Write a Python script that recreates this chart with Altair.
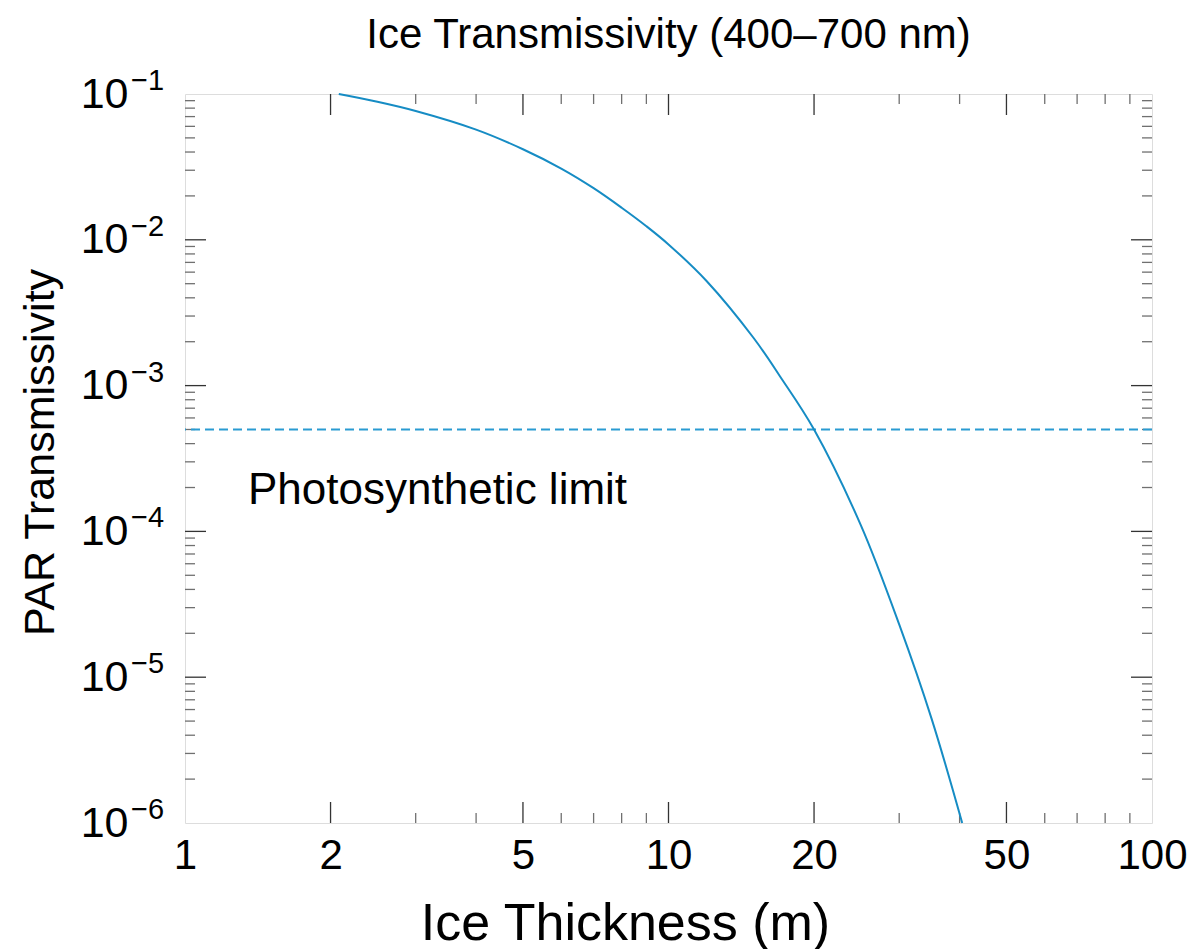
import altair as alt
import pandas as pd

# Ice thickness (m) and PAR transmissivity along the curve
thickness = [2.08, 2.5, 3, 4, 5, 6, 7, 8, 9, 10, 12, 15, 17, 20, 25, 30, 35, 40.5]
transmissivity = [0.1, 0.0885, 0.0765, 0.057, 0.0418, 0.0308, 0.0226, 0.0166, 0.0124,
                  0.0093, 0.0052, 0.00212, 0.00116, 5.0e-4, 1.1e-4, 2.3e-5, 5.2e-6, 1.0e-6]

# Photosynthetic limit threshold and its label anchor
limit_value = 5e-4
limit_label = "Photosynthetic limit"
label_x = 1.35
label_y = 1.9e-4

# Axis ticks
x_major = [1, 2, 5, 10, 20, 50, 100]
x_minor = [3, 4, 6, 7, 8, 9, 30, 40, 60, 70, 80, 90]
y_major = [1e-6, 1e-5, 1e-4, 1e-3, 1e-2, 1e-1]
y_exponents = ["\u22126", "\u22125", "\u22124", "\u22123", "\u22122", "\u22121"]
y_minor = [m * d for d in [1e-6, 1e-5, 1e-4, 1e-3, 1e-2] for m in range(2, 10)]

W, H = 967, 729
FONT = "Liberation Sans"
BLUE = "#168cc4"
MAJOR_LEN, MINOR_LEN = 21, 10

xs = alt.Scale(type="log", domain=[1, 100])
ys = alt.Scale(type="log", domain=[1e-6, 1e-1])

curve_df = pd.DataFrame({"h": thickness, "t": transmissivity})

x_axis = alt.Axis(values=x_major, format="d", labelFontSize=42, labelFont=FONT,
                  labelColor="black", labelFlush=False, ticks=False, tickSize=0,
                  domain=False, grid=False, labelPadding=12,
                  title="Ice Thickness (m)", titleFontSize=52,
                  titleFont=FONT, titleFontWeight="normal", titleColor="black",
                  titleX=440, titleY=100, titleBaseline="middle")
y_axis = alt.Axis(values=y_major, labelExpr="'10'", labelFontSize=43, labelFont=FONT,
                  labelColor="black", labelFlush=False, ticks=False, tickSize=0,
                  domain=False, grid=False, labelPadding=57, labelBaseline="middle",
                  title="PAR Transmissivity", titleFontSize=43, titleFont=FONT,
                  titleFontWeight="normal", titleColor="black",
                  titleX=-145, titleY=358, titleBaseline="middle")

curve = alt.Chart(curve_df).mark_line(color=BLUE, strokeWidth=2, interpolate="catmull-rom").encode(
    x=alt.X("h:Q", scale=xs, axis=x_axis),
    y=alt.Y("t:Q", scale=ys, axis=y_axis),
)

limit = alt.Chart(pd.DataFrame({"t": [limit_value]})).mark_rule(
    color="#2a9bd2", strokeWidth=2, strokeDash=[9, 5]
).encode(y=alt.Y("t:Q", scale=ys))

label = alt.Chart(pd.DataFrame({"h": [label_x], "t": [label_y], "txt": [limit_label]})).mark_text(
    align="left", baseline="middle", fontSize=44, font=FONT, color="black"
).encode(x=alt.X("h:Q", scale=xs), y=alt.Y("t:Q", scale=ys), text="txt:N")

sup = alt.Chart(pd.DataFrame({"t": y_major, "e": y_exponents})).mark_text(
    align="left", baseline="alphabetic", fontSize=29, font=FONT, color="black", dy=-4
).encode(y=alt.Y("t:Q", scale=ys), x=alt.value(-54), text="e:N")


def xticks(vals, length, color):
    df = pd.DataFrame({"v": vals})
    base = alt.Chart(df).mark_rule(color=color, strokeWidth=1.3)
    bottom = base.encode(x=alt.X("v:Q", scale=xs), y=alt.value(H), y2=alt.value(H - length))
    top = base.encode(x=alt.X("v:Q", scale=xs), y=alt.value(0), y2=alt.value(length))
    return [bottom, top]


def yticks(vals, length, color):
    df = pd.DataFrame({"v": vals})
    base = alt.Chart(df).mark_rule(color=color, strokeWidth=1.3)
    left = base.encode(y=alt.Y("v:Q", scale=ys), x=alt.value(0), x2=alt.value(length))
    right = base.encode(y=alt.Y("v:Q", scale=ys), x=alt.value(W), x2=alt.value(W - length))
    return [left, right]


tick_layers = (xticks(x_major[1:-1], MAJOR_LEN, "#333333") + xticks(x_minor, MINOR_LEN, "#707070")
               + yticks(y_major[1:-1], MAJOR_LEN, "#333333") + yticks(y_minor, MINOR_LEN, "#707070"))

chart = alt.layer(*tick_layers, limit, curve, label, sup).properties(
    width=W, height=H,
    title=alt.Title("Ice Transmissivity (400\u2013700 nm)", fontSize=42, font=FONT,
                    fontWeight="normal", color="black", offset=10),
    autosize=alt.AutoSizeParams(type="none"),
    padding={"left": 185, "top": 94, "right": 48, "bottom": 126},
).configure_view(stroke="#6e6e6e", strokeWidth=1.6).configure(background="white")

chart.save("out.html", embed_options={"renderer": "svg", "actions": False})
